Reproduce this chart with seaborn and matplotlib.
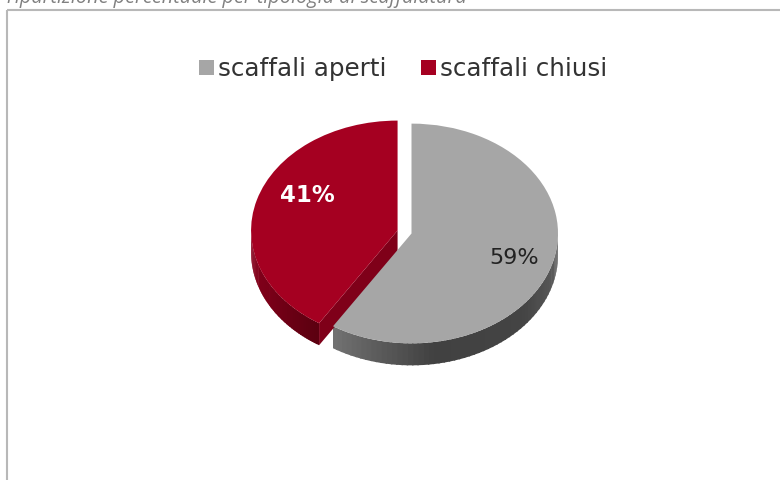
import numpy as np
import matplotlib
matplotlib.use("Agg")
import matplotlib.pyplot as plt
from matplotlib.patches import Polygon, Rectangle
from matplotlib.colors import LinearSegmentedColormap
import seaborn as sns

categories = ["scaffali aperti", "scaffali chiusi"]
values = [59, 41]
title = "ripartizione percentuale per tipologia di scaffalatura"
colors = sns.color_palette(["#a6a6a6", "#a50021"])

W, H = 780, 480
K = 0.75          # vertical squash of the tilted pie
RX = 146.5
DEPTH = 22
CX, CY = 411.5, 233.5
EXPLODE = 14.5    # pull-out of the red slice, in the pie's own units


def Y(py):
    return (H - py) / K


sns.set_theme(style="white")
plt.rcParams["font.family"] = ["DejaVu Sans"]
fig = plt.figure(figsize=(W / 100, H / 100), dpi=100, facecolor="white")
ax = fig.add_axes([0, 0, 1, 1])

frac = np.array(values) / sum(values)
edges = np.concatenate([[0], np.cumsum(frac)]) * 360
mids = np.radians((edges[:-1] + edges[1:]) / 2)
offx = [0, EXPLODE * np.sin(mids[1])]
offy = [0, EXPLODE * np.cos(mids[1])]
dY = DEPTH / K


def rim(start, stop, cx, cy, cmap):
    ts = np.linspace(start, stop, 60)
    for i, (a, b) in enumerate(zip(ts[:-1], ts[1:])):
        ra = np.radians(a)
        rb2 = np.radians(min(b + 0.6, stop))
        p = [(cx + RX * np.sin(ra), cy + RX * np.cos(ra)),
             (cx + RX * np.sin(rb2), cy + RX * np.cos(rb2)),
             (cx + RX * np.sin(rb2), cy + RX * np.cos(rb2) - dY),
             (cx + RX * np.sin(ra), cy + RX * np.cos(ra) - dY)]
        ax.add_patch(Polygon(p, closed=True, fc=cmap(i / 58), ec="none", zorder=1))


# pie top faces
wedges, _ = ax.pie(values, colors=colors, startangle=90, counterclock=False,
                   center=(CX, Y(CY)), radius=RX, explode=[0, EXPLODE],
                   wedgeprops={"linewidth": 0, "zorder": 3})
ax.set_aspect("auto")
ax.set_xlim(0, W)
ax.set_ylim(0, H / K)
ax.set_frame_on(True)
for s in ax.spines.values():
    s.set_visible(False)

# side walls follow the slice angles
gray_rim = LinearSegmentedColormap.from_list("g", ["#666666", "#444444", "#414141", "#717171"])
red_rim = LinearSegmentedColormap.from_list("r", ["#5c0010", "#7a0018", "#8a001c"])
rim(90, edges[1], CX, Y(CY), gray_rim)
rim(edges[1], 270, CX + offx[1], Y(CY) + offy[1], red_rim)

# cut face of the pulled-out slice
rcx, rcy = CX + offx[1], Y(CY) + offy[1]
tt = np.radians(edges[1])
tip = (rcx + RX * np.sin(tt), rcy + RX * np.cos(tt))
ax.add_patch(Polygon([(rcx, rcy), tip, (tip[0], tip[1] - dY), (rcx, rcy - dY)],
                     closed=True, fc="#7f0019", ec="none", zorder=2))

# outer frame and clipped caption
ax.add_patch(Rectangle((7, Y(9.5)), W + 50, -(H + 50) / K, fill=False,
                       ec="#b8b8b8", lw=1.5, zorder=0))
ax.text(7, Y(3), title, style="italic", color="#808080", fontsize=14.3,
        family="Open Sans", ha="left", va="baseline")

# data labels
ax.text(514.5, Y(258), f"{values[0]}%", color="#222222", fontsize=16,
        family="DejaVu Sans", ha="center", va="center", zorder=5)
ax.text(307, Y(196), f"{values[1]}%", color="white", fontsize=16.4,
        family="DejaVu Sans", weight="bold", ha="center", va="center", zorder=5)

# legend
leg = ax.legend(wedges, categories, ncol=2, frameon=False, prop={"family": "DejaVu Sans", "size": 17.7},
                loc="center", bbox_to_anchor=(403 / W, 1 - 69 / H), handlelength=0.6,
                handleheight=0.6, handletextpad=0.17, columnspacing=1.42, labelcolor="#333333")

fig.savefig("out.png", dpi=100)
